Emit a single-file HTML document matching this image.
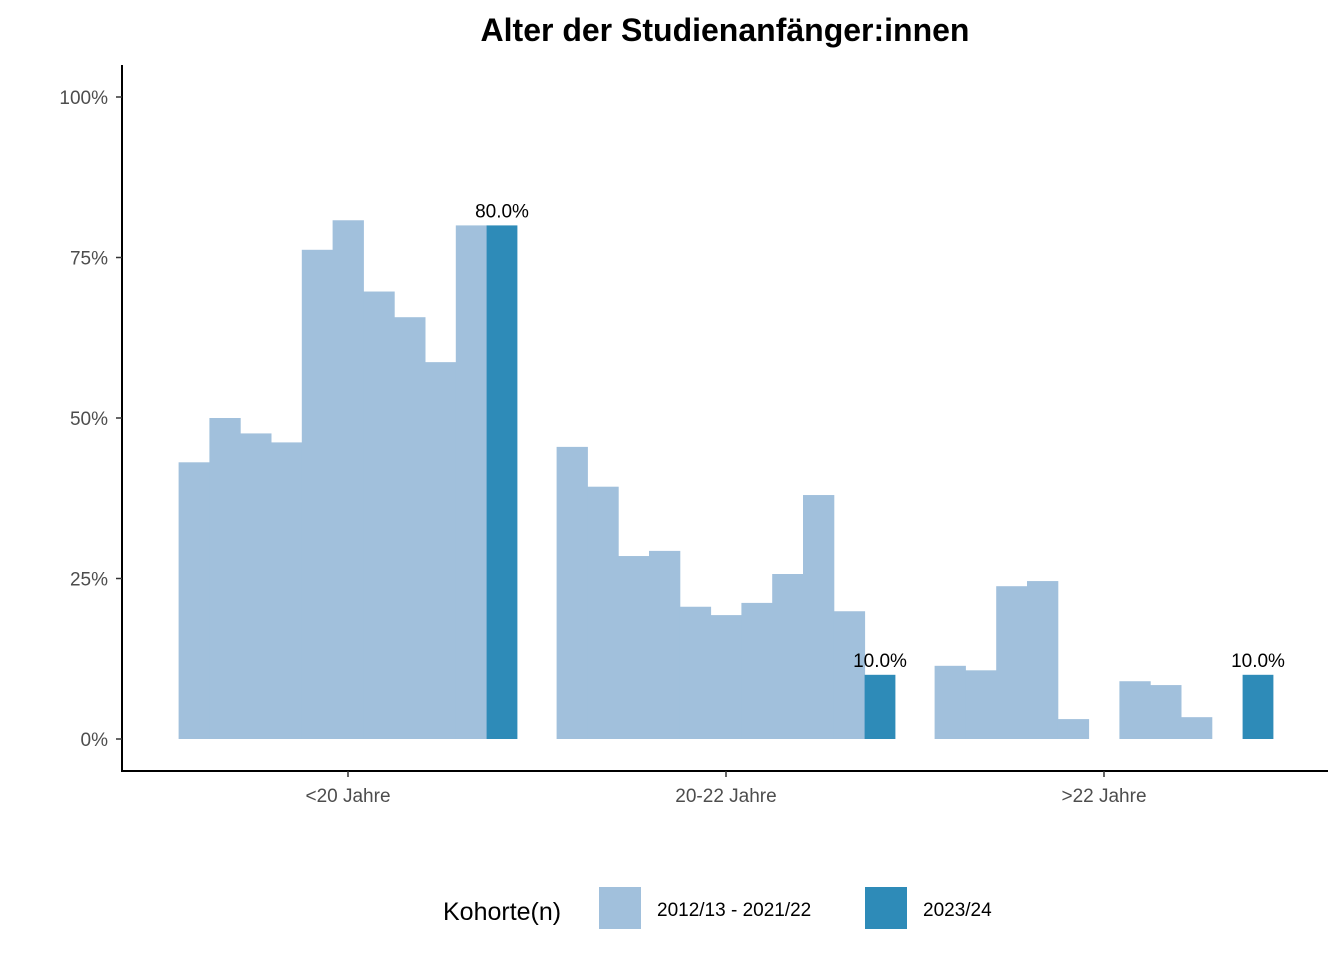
<!DOCTYPE html>
<html><head><meta charset="utf-8"><style>
body{margin:0;background:#fff;font-family:"Liberation Sans",Arial,sans-serif}
</style></head><body>
<svg width="1344" height="960" xmlns="http://www.w3.org/2000/svg" font-family="Liberation Sans, Arial, sans-serif">
<text x="725" y="41" text-anchor="middle" font-size="32" font-weight="bold">Alter der Studienanfänger:innen</text>
<g id="axes"></g>
<g id="bars"></g>
<g>
<text x="443" y="920" font-size="25">Kohorte(n)</text>
<rect x="599" y="887" width="42" height="42" fill="#a1c0dc"/>
<text x="657" y="916" font-size="19">2012/13 - 2021/22</text>
<rect x="865" y="887" width="42" height="42" fill="#2e8bb8"/>
<text x="923" y="916" font-size="19">2023/24</text>
</g>
</svg>
<script>
const categories=["<20 Jahre","20-22 Jahre",">22 Jahre"];
const historic=[[43.1,50.0,47.6,46.2,76.2,80.8,69.7,65.7,58.7,80.0],[45.5,39.3,28.5,29.3,20.6,19.3,21.2,25.7,38.0,19.9],[11.4,10.7,23.8,24.6,3.1,0,9.0,8.4,3.4,0]];
const current=[80.0,10.0,10.0];
const yTicks=[0,25,50,75,100];
const ns="http://www.w3.org/2000/svg";
const y0=739,yScale=6.42,cx0=348,cstep=378,bw=30.8;
const y=v=>y0-v*yScale;
const xc=i=>cx0+i*cstep;
function mk(tag,attrs,parent){const e=document.createElementNS(ns,tag);for(const k in attrs)e.setAttribute(k,attrs[k]);parent.appendChild(e);return e;}
const ax=document.getElementById('axes'),bars=document.getElementById('bars');
let l=mk('line',{x1:122,y1:65,x2:122,y2:771,stroke:'#000','stroke-width':2},ax);


l=mk('line',{x1:121,y1:771,x2:1328,y2:771,stroke:'#000','stroke-width':2},ax);


yTicks.forEach(t=>{
 mk('line',{x1:116,x2:122,y1:y(t),y2:y(t),stroke:'#333','stroke-width':1.5},ax);
 const tx=mk('text',{x:108,y:y(t)+7,'text-anchor':'end','font-size':19,fill:'#4d4d4d'},ax);
 tx.textContent=t+'%';
 
 
});
categories.forEach((c,i)=>{
 mk('line',{x1:xc(i),x2:xc(i),y1:771,y2:777,stroke:'#333','stroke-width':1.5},ax);
 const tx=mk('text',{x:xc(i),y:802,'text-anchor':'middle','font-size':19,fill:'#4d4d4d'},ax);
 tx.textContent=c;
 
 
 const left=xc(i)-bw*5.5;
 historic[i].forEach((v,j)=>{
  if(v<=0)return;
  const r=mk('rect',{x:left+j*bw,y:y(v),width:bw+0.5,height:v*yScale,fill:'#a1c0dc'},bars);
  
  
 });
 const v=current[i];
 const r=mk('rect',{x:left+10*bw,y:y(v),width:bw,height:v*yScale,fill:'#2e8bb8'},bars);
 
 
 const lb=mk('text',{x:left+10.5*bw,y:y(v)-8,'text-anchor':'middle','font-size':19},bars);
 lb.textContent=v.toFixed(1)+'%';
 
 
});
</script>
</body></html>
